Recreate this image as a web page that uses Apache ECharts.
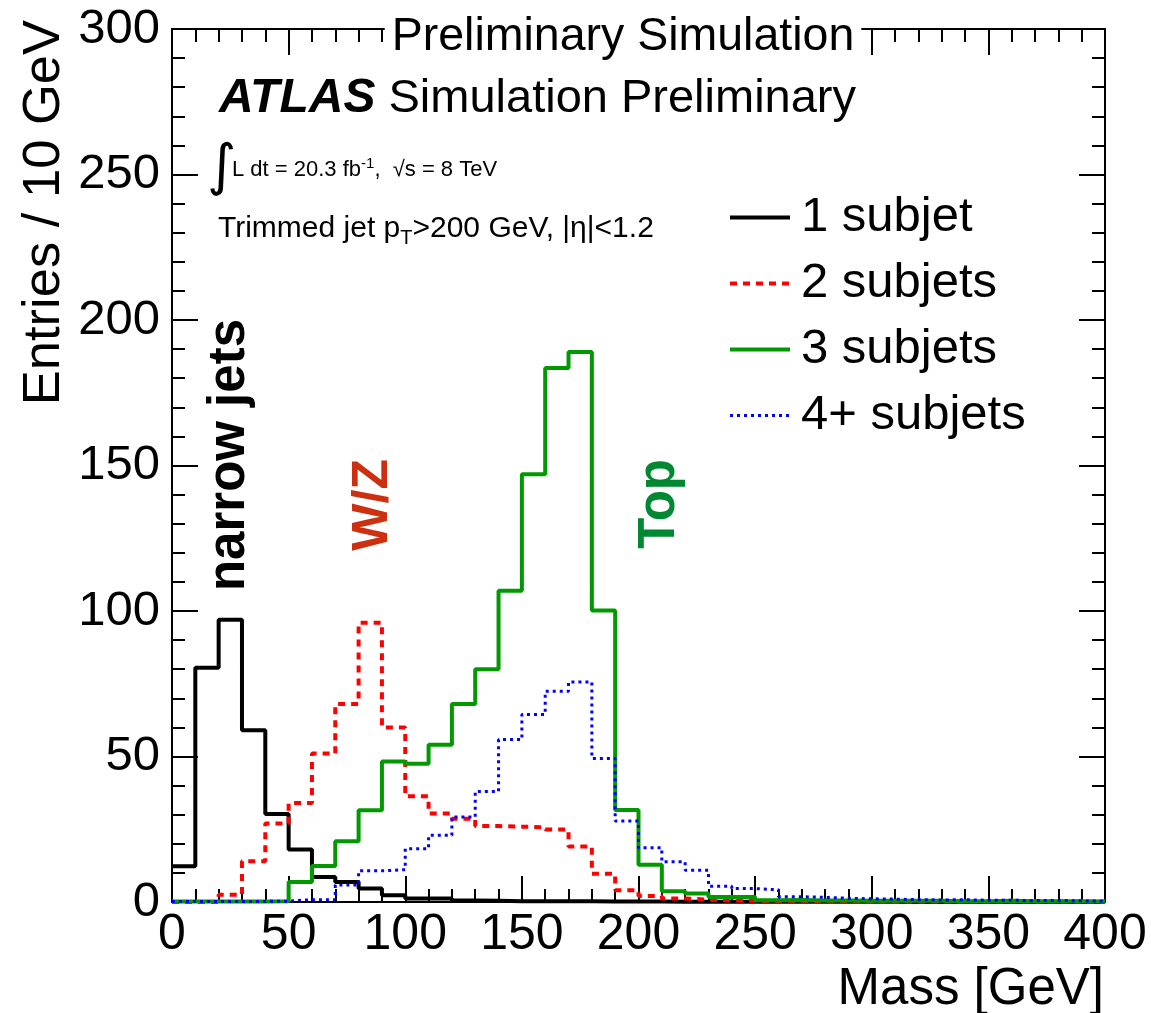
<!DOCTYPE html>
<html>
<head>
<meta charset="utf-8">
<script src="https://cdn.jsdelivr.net/npm/echarts@6/dist/echarts.min.js"></script>
<style>
html,body{margin:0;padding:0;background:#fff;}
#chart{width:1151px;height:1013px;}
</style>
</head>
<body>
<div id="chart"></div>
<script>
// Bin lower edges (GeV), 10 GeV bins
const binLow = [0,10,20,30,40,50,60,70,80,90,100,110,120,130,140,150,160,170,180,190,
                200,210,220,230,240,250,260,270,280,290,300,310,320,330,340,350,360,370,380,390];
const binUpperEdge = 400;

const seriesNames = ['1 subjet', '2 subjets', '3 subjets', '4+ subjets'];

const oneSubjet = [12.3,80.5,97,59,30.2,18,8.6,6.9,4.6,2.3,1.2,1.2,0.5,0.4,0.3,0.3,0.3,0.3,0.2,0.2,
                   0.2,0.1,0.1,0.1,0.1,0.1,0.1,0.1,0.1,0.1,0.1,0,0,0,0,0,0,0,0,0];
const twoSubjets = [0,0,2.5,14,27,34,51,68,96,60,36.3,30.4,28.6,26.1,25.9,25.6,24.9,19.1,9.7,4,
                    2.1,1.2,0.8,0.5,0.4,0.3,0.3,0.2,0.2,0.2,0.1,0.1,0.1,0.1,0.1,0.1,0.1,0.1,0.1,0.1];
const threeSubjets = [0.2,0.2,0.2,0.2,0.3,6.9,12.4,20.9,31.5,48.3,47.5,54,68,80,107,147,183.5,189,100.2,31.6,
                      12.8,3.7,2.9,1.7,1.7,0.6,0.7,0.5,0.5,0.4,0.4,0.4,0.4,0.3,0.3,0.4,0.3,0.3,0.3,0.2];
const fourPlusSubjets = [0.2,0.2,0.2,0.2,0.3,0.8,0.8,5.8,10.7,11.1,18.3,22.9,29.2,38,55.8,64.4,72.4,75.6,49.3,27.8,
                         18.6,13.8,10.9,5.4,4.6,4.2,1.8,1.6,1.3,1.1,1.0,0.8,0.7,0.8,0.6,0.6,0.5,0.5,0.4,0.3];

const xTicks = [0,50,100,150,200,250,300,350,400];
const yTicks = [0,50,100,150,200,250,300];

const FONT = "'Liberation Sans', Arial, Helvetica, sans-serif";

function stepData(vals) {
  const pts = binLow.map((x, i) => [x, vals[i]]);
  pts.push([binUpperEdge, vals[vals.length - 1]]);
  return pts;
}

const chart = echarts.init(document.getElementById('chart'), null, {renderer: 'canvas'});

const axisCommon = {
  axisLine: {show: true, onZero: false, lineStyle: {color: '#000', width: 2}},
  axisTick: {show: true, inside: true, length: 26, lineStyle: {color: '#000', width: 2}},
  minorTick: {show: true, splitNumber: 5, length: 13, lineStyle: {color: '#000', width: 2}},
  splitLine: {show: false},
  minorSplitLine: {show: false}
};

const xAxisBase = Object.assign({type: 'value', min: xTicks[0], max: xTicks[xTicks.length-1], interval: 50}, axisCommon);
const yAxisBase = Object.assign({type: 'value', min: yTicks[0], max: yTicks[yTicks.length-1], interval: 50}, axisCommon);

const lineColors = ['#000000', '#ff0000', '#009900', '#0000ff'];
const lineWidths = [4, 4, 4, 3];
const lineTypes = ['solid', [7, 6], 'solid', [3, 4]];

const option = {
  backgroundColor: '#fff',
  animation: false,
  grid: {left: 172, right: 46, top: 29, bottom: 111, containLabel: false},
  xAxis: [
    Object.assign({}, xAxisBase, {
      position: 'bottom',
      axisLabel: {show: true, color: '#000', fontSize: 50, fontFamily: FONT, margin: 8}
    }),
    Object.assign({}, xAxisBase, {position: 'top', axisLabel: {show: false}})
  ],
  yAxis: [
    Object.assign({}, yAxisBase, {
      position: 'left',
      axisLabel: {show: true, color: '#000', fontSize: 49, fontFamily: FONT, margin: 12}
    }),
    Object.assign({}, yAxisBase, {position: 'right', axisLabel: {show: false}})
  ],
  legend: {
    orient: 'vertical',
    left: 728,
    top: 193,
    padding: 0,
    itemWidth: 60,
    itemHeight: 20,
    itemGap: 17,
    itemStyle: {opacity: 0},
    textStyle: {fontSize: 49, fontFamily: FONT, color: '#000', lineHeight: 46, padding: [0, 0, 0, 6]},
    data: seriesNames.map((n, i) => ({
      name: n,
      lineStyle: {color: lineColors[i], width: lineWidths[i], type: lineTypes[i], opacity: 1}
    }))
  },
  series: seriesNames.map((n, i) => ({
    name: n, type: 'line', step: 'end', symbol: 'none',
    xAxisIndex: 0, yAxisIndex: 0, z: 3 + i,
    lineStyle: {color: lineColors[i], width: lineWidths[i], type: lineTypes[i]},
    itemStyle: {color: lineColors[i]},
    data: stepData([oneSubjet, twoSubjets, threeSubjets, fourPlusSubjets][i])
  })),
  graphic: [
    {
      type: 'text', z: 100, x: 623, y: 37,
      style: {text: 'Preliminary Simulation', fill: '#000', font: '46.5px ' + FONT,
              textAlign: 'center', textVerticalAlign: 'middle', backgroundColor: '#fff', padding: [0, 7]}
    },
    {
      type: 'text', z: 100, x: 219, y: 99,
      style: {
        text: '{b|ATLAS}{n| Simulation Preliminary}',
        textVerticalAlign: 'middle', fill: '#000',
        rich: {
          b: {font: 'italic bold 48px ' + FONT, fill: '#000'},
          n: {font: '47px ' + FONT, fill: '#000'}
        }
      }
    },
    {
      type: 'text', z: 100, x: 207, y: 169,
      style: {text: '∫', fill: '#000', font: '56px DejaVu Sans', textVerticalAlign: 'middle'}
    },
    {
      type: 'text', z: 100, x: 232, y: 170,
      style: {
        text: '{n|L dt = 20.3 fb}{s|-1}{n|,  √s = 8 TeV}',
        textVerticalAlign: 'middle', fill: '#000',
        rich: {
          n: {font: '22px ' + FONT, fill: '#000'},
          s: {font: '15px ' + FONT, fill: '#000', padding: [0, 0, 13, 0]}
        }
      }
    },
    {
      type: 'text', z: 100, x: 218, y: 229,
      style: {
        text: '{n|Trimmed jet p}{t|T}{n|>200 GeV, |η|<1.2}',
        textVerticalAlign: 'middle', fill: '#000',
        rich: {
          n: {font: '30px ' + FONT, fill: '#000'},
          t: {font: '20px ' + FONT, fill: '#000', padding: [18, 0, 0, 0]}
        }
      }
    },
    {
      type: 'text', z: 100, x: 230, y: 319, rotation: Math.PI / 2,
      style: {text: 'narrow jets', fill: '#000', font: 'bold 51px ' + FONT,
              textAlign: 'right', textVerticalAlign: 'middle'}
    },
    {
      type: 'text', z: 100, x: 373, y: 459, rotation: Math.PI / 2,
      style: {text: 'W/Z', fill: '#cc3010', font: 'bold 50px ' + FONT,
              textAlign: 'right', textVerticalAlign: 'middle'}
    },
    {
      type: 'text', z: 100, x: 660, y: 459, rotation: Math.PI / 2,
      style: {text: 'Top', fill: '#008833', font: 'bold 51px ' + FONT,
              textAlign: 'right', textVerticalAlign: 'middle'}
    },
    {
      type: 'text', z: 100, x: 45, y: 20, rotation: Math.PI / 2,
      style: {text: 'Entries / 10 GeV', fill: '#000', font: '52.5px ' + FONT,
              textAlign: 'right', textVerticalAlign: 'middle'}
    },
    {
      type: 'text', z: 100, x: 1104, y: 990,
      style: {text: 'Mass [GeV]', fill: '#000', font: '51px ' + FONT,
              textAlign: 'right', textVerticalAlign: 'middle'}
    }
  ]
};

chart.setOption(option);
</script>
</body>
</html>
